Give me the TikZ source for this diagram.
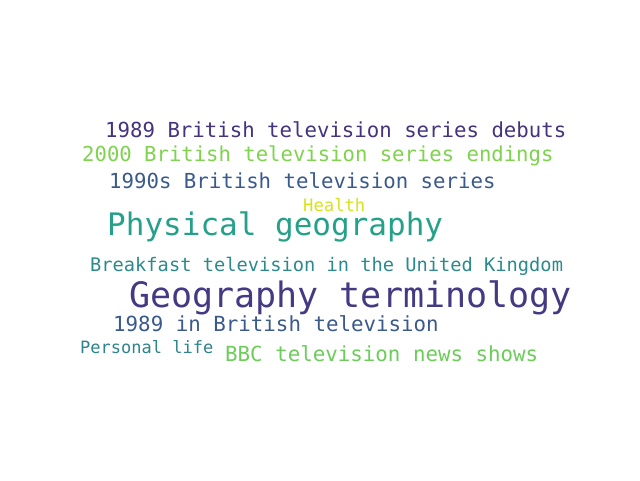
\documentclass[tikz,border=0pt]{standalone}
\usepackage{fontspec}
\setmonofont{DejaVu Sans Mono}
\definecolor{vpurple}{HTML}{46337E}
\definecolor{vindigo}{HTML}{443A83}
\definecolor{vblue}{HTML}{3B5A8C}
\definecolor{vteal}{HTML}{2C8A8C}
\definecolor{vtealblue}{HTML}{2D838E}
\definecolor{vgreen}{HTML}{25A18A}
\definecolor{vlime}{HTML}{7FD34E}
\definecolor{vlight}{HTML}{6CCD5A}
\definecolor{vyellow}{HTML}{D8E219}
\tikzset{
    word/.style = {
        anchor = base west,
        inner sep = 0pt,
        font = \ttfamily\fontsize{#1}{#1}\selectfont,
        },
}
\begin{document}
\begin{tikzpicture}[x=1pt, y=-1pt]
            \useasboundingbox[fill=white] (0,0) rectangle (640,480);
            \node[word=20.7, vpurple] (debuts) at (105,137) {1989 British television series debuts};
            \node[word=20.6, vlime] (endings) at (82,161) {2000 British television series endings};
            \node[word=20.7, vblue] (nineties) at (109,188) {1990s British television series};
            \node[word=17.2, vyellow] (health) at (303,211) {Health};
            \node[word=31, vgreen] (physical) at (107,235) {Physical geography};
            \node[word=18.7, vteal] (breakfast) at (90,271) {Breakfast television in the United Kingdom};
            \node[word=35, vindigo] (terms) at (129,307) {Geography terminology};
            \node[word=20.8, vblue] (eightynine) at (113,331) {1989 in British television};
            \node[word=17, vtealblue] (personal) at (80,353) {Personal life};
            \node[word=20.8, vlight] (news) at (225,361) {BBC television news shows};
        \end{tikzpicture}
\end{document}
